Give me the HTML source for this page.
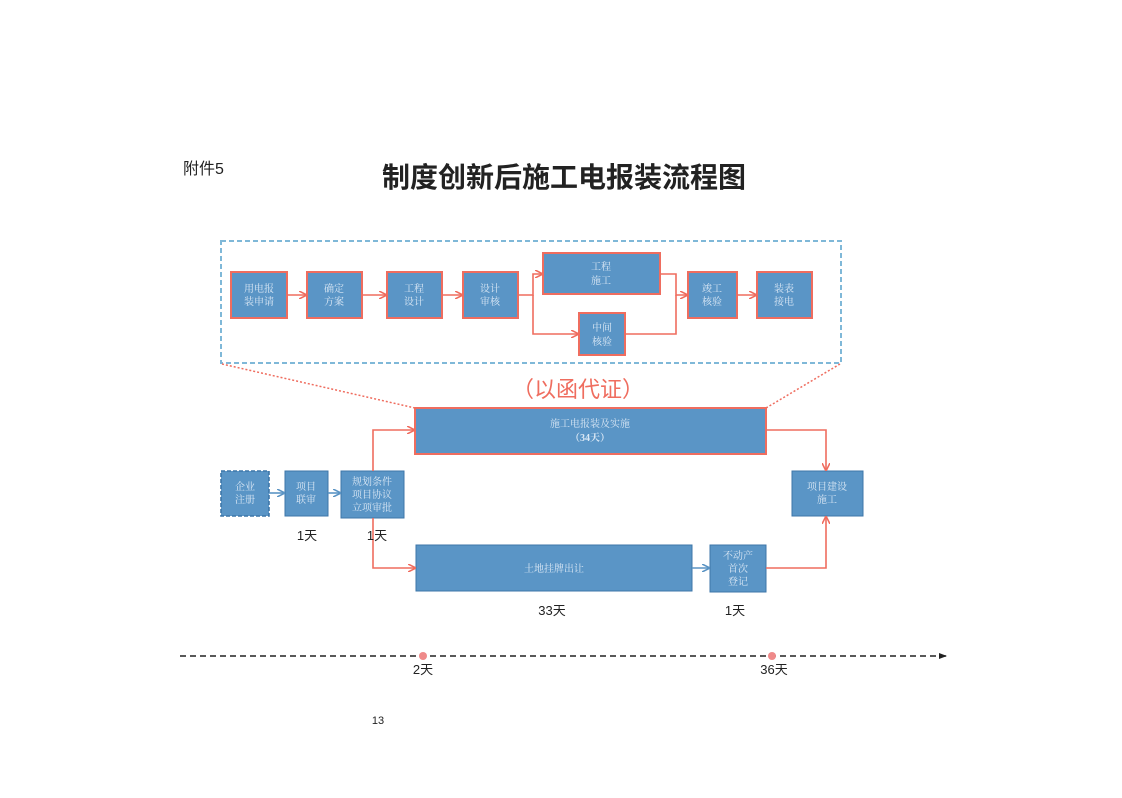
<!DOCTYPE html>
<html><head><meta charset="utf-8"><style>
body{margin:0;background:#fff;}
svg text{font-family:"Liberation Sans","Noto Sans CJK SC",sans-serif;}
.b{font-family:"Liberation Serif","Noto Serif CJK SC",serif;font-size:10px;fill:#dbe8f5;text-anchor:middle;}
</style></head><body>
<svg width="1122" height="793" viewBox="0 0 1122 793" xmlns="http://www.w3.org/2000/svg">
<defs>
<marker id="ar" markerWidth="8" markerHeight="8" refX="7" refY="4" orient="auto" markerUnits="userSpaceOnUse"><path d="M0,0 L8,4 L0,8" fill="none" stroke="#ef6d5f" stroke-width="1.6"/></marker>
<marker id="ab" markerWidth="8" markerHeight="8" refX="7" refY="4" orient="auto" markerUnits="userSpaceOnUse"><path d="M0,0 L8,4 L0,8" fill="none" stroke="#5b94c4" stroke-width="1.6"/></marker>
<marker id="ak" markerWidth="8" markerHeight="8" refX="7" refY="4" orient="auto" markerUnits="userSpaceOnUse"><path d="M0,1 L8,4 L0,7 z" fill="#222"/></marker>
</defs>
<text x="183" y="174" font-size="16" fill="#222">附件5</text>
<text x="564" y="187" font-size="28" font-weight="bold" fill="#222" text-anchor="middle">制度创新后施工电报装流程图</text>
<rect x="221" y="241" width="620" height="122" fill="none" stroke="#7fb8d8" stroke-width="2" stroke-dasharray="5,3"/>
<g fill="#5a95c6" stroke="#ef6d5f" stroke-width="2">
<rect x="231" y="272" width="56" height="46"/><rect x="307" y="272" width="55" height="46"/>
<rect x="387" y="272" width="55" height="46"/><rect x="463" y="272" width="55" height="46"/>
<rect x="543" y="253" width="117" height="41"/><rect x="579" y="313" width="46" height="42"/>
<rect x="688" y="272" width="49" height="46"/><rect x="757" y="272" width="55" height="46"/>
</g>
<g stroke="#ef6d5f" stroke-width="1.6" fill="none" marker-end="url(#ar)">
<line x1="287" y1="295" x2="306" y2="295"/><line x1="362" y1="295" x2="386" y2="295"/>
<line x1="442" y1="295" x2="462" y2="295"/><line x1="737" y1="295" x2="756" y2="295"/>
<polyline points="518,295 533,295 533,274 542,274"/><polyline points="533,295 533,334 578,334"/>
<polyline points="660,274 676,274 676,295 687,295"/>
</g>
<polyline points="625,334 676,334 676,295" stroke="#ef6d5f" stroke-width="1.6" fill="none"/>
<g class="b">
<text x="259" y="292" class="b">用电报</text><text x="259" y="305" class="b">装申请</text>
<text x="334" y="292" class="b">确定</text><text x="334" y="305" class="b">方案</text>
<text x="414" y="292" class="b">工程</text><text x="414" y="305" class="b">设计</text>
<text x="490" y="292" class="b">设计</text><text x="490" y="305" class="b">审核</text>
<text x="601" y="270" class="b">工程</text><text x="601" y="284" class="b">施工</text>
<text x="602" y="331" class="b">中间</text><text x="602" y="345" class="b">核验</text>
<text x="712" y="292" class="b">竣工</text><text x="712" y="305" class="b">核验</text>
<text x="784" y="292" class="b">装表</text><text x="784" y="305" class="b">接电</text>
</g>
<line x1="222" y1="364" x2="415" y2="408" stroke="#ef6d5f" stroke-width="1.5" stroke-dasharray="2,2"/>
<line x1="840" y1="364" x2="766" y2="408" stroke="#ef6d5f" stroke-width="1.5" stroke-dasharray="2,2"/>
<text x="578" y="397" font-size="22" fill="#ef6d5f" text-anchor="middle">（以函代证）</text>
<rect x="415" y="408" width="351" height="46" fill="#5a95c6" stroke="#ef6d5f" stroke-width="2"/>
<text x="590" y="427" class="b">施工电报装及实施</text>
<text x="590" y="441" class="b" font-weight="bold">（34天）</text>
<rect x="221" y="471" width="48" height="45" fill="#5a95c6" stroke="#3d76a8" stroke-width="1.6" stroke-dasharray="4,2"/>
<text x="245" y="490" class="b">企业</text><text x="245" y="503" class="b">注册</text>
<rect x="285" y="471" width="43" height="45" fill="#5a95c6" stroke="#3d76a8"/>
<text x="306" y="490" class="b">项目</text><text x="306" y="503" class="b">联审</text>
<rect x="341" y="471" width="63" height="47" fill="#5a95c6" stroke="#3d76a8"/>
<text x="372" y="485" class="b">规划条件</text><text x="372" y="498" class="b">项目协议</text><text x="372" y="511" class="b">立项审批</text>
<rect x="792" y="471" width="71" height="45" fill="#5a95c6" stroke="#3d76a8"/>
<text x="827" y="490" class="b">项目建设</text><text x="827" y="503" class="b">施工</text>
<rect x="416" y="545" width="276" height="46" fill="#5a95c6" stroke="#3d76a8"/>
<text x="554" y="572" class="b">土地挂牌出让</text>
<rect x="710" y="545" width="56" height="47" fill="#5a95c6" stroke="#3d76a8"/>
<text x="738" y="559" class="b">不动产</text><text x="738" y="572" class="b">首次</text><text x="738" y="585" class="b">登记</text>
<g stroke="#5b94c4" stroke-width="1.6" marker-end="url(#ab)">
<line x1="269" y1="493" x2="284" y2="493"/><line x1="328" y1="493" x2="340" y2="493"/>
<line x1="692" y1="568" x2="709" y2="568"/>
</g>
<g stroke="#ef6d5f" stroke-width="1.6" fill="none" marker-end="url(#ar)">
<polyline points="373,471 373,430 414,430"/><polyline points="373,518 373,568 415,568"/>
<polyline points="766,430 826,430 826,470"/><polyline points="766,568 826,568 826,517"/>
</g>
<g font-size="13" fill="#222" text-anchor="middle">
<text x="307" y="540">1天</text><text x="377" y="540">1天</text>
<text x="552" y="615">33天</text><text x="735" y="615">1天</text>
<text x="423" y="674">2天</text><text x="774" y="674">36天</text>
</g>
<line x1="180" y1="656" x2="946" y2="656" stroke="#222" stroke-width="1.6" stroke-dasharray="6,4" marker-end="url(#ak)"/>
<circle cx="423" cy="656" r="4" fill="#ef8a8a"/><circle cx="772" cy="656" r="4" fill="#ef8a8a"/>
<text x="378" y="724" font-size="11" fill="#222" text-anchor="middle" font-family="Liberation Serif,serif">13</text>
</svg>
</body></html>
